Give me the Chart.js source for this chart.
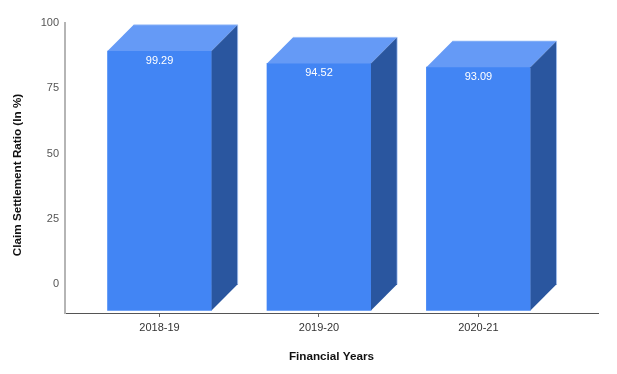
<!DOCTYPE html>
<html>
<head>
<meta charset="utf-8">
<style>
  html, body { margin: 0; padding: 0; background: #fff; }
  #wrap { width: 617px; height: 374px; }
</style>
<script src="https://cdn.jsdelivr.net/npm/chart.js@4"></script>
</head>
<body>
<div id="wrap"><canvas id="myChart" width="617" height="374"></canvas></div>
<script>
const categories = ['2018-19', '2019-20', '2020-21'];
const ratios = [99.29, 94.52, 93.09];
const yTicks = [0, 25, 50, 75, 100];

// the depth of the fake 3D box, in value units
const DEPTH = 10;

// front face of each box is the bar itself, pushed down and left by the depth
const box3d = {
    id: 'box3d',
    afterDatasetsDraw(chart) {
        const ctx = chart.ctx;
        const y = chart.scales.y;
        const d = y.getPixelForValue(0) - y.getPixelForValue(DEPTH);
        chart.getDatasetMeta(0).data.forEach((bar, i) => {
            const left = bar.x - bar.width / 2;
            const right = bar.x + bar.width / 2;

            ctx.save();
            // top
            ctx.fillStyle = '#659af6';
            ctx.beginPath();
            ctx.moveTo(left, bar.y);
            ctx.lineTo(left + d, bar.y - d);
            ctx.lineTo(right + d, bar.y - d);
            ctx.lineTo(right, bar.y);
            ctx.closePath();
            ctx.fill();

            // side
            ctx.fillStyle = '#2a569f';
            ctx.beginPath();
            ctx.moveTo(right, bar.y);
            ctx.lineTo(right + d, bar.y - d);
            ctx.lineTo(right + d, bar.base - d);
            ctx.lineTo(right, bar.base);
            ctx.closePath();
            ctx.fill();

            // thin light edge along the back
            ctx.strokeStyle = 'rgba(170, 200, 250, 0.7)';
            ctx.lineWidth = 1;
            ctx.beginPath();
            ctx.moveTo(left + d, bar.y - d);
            ctx.lineTo(right + d, bar.y - d);
            ctx.lineTo(right + d, bar.base - d);
            ctx.stroke();

            // value label
            ctx.fillStyle = '#ffffff';
            ctx.font = '11px "Liberation Sans"';
            ctx.textAlign = 'center';
            ctx.textBaseline = 'middle';
            ctx.fillText(ratios[i].toFixed(2), bar.x, bar.y + 9.5);
            ctx.restore();
        });

        // y title sits a bit under the middle of the axis, scale title can't do that
        ctx.save();
        ctx.translate(18, 175);
        ctx.rotate(-Math.PI / 2);
        ctx.fillStyle = '#111111';
        ctx.font = 'bold 11.7px "Liberation Sans"';
        ctx.textAlign = 'center';
        ctx.textBaseline = 'middle';
        ctx.fillText('Claim Settlement Ratio (In %)', 0, 0);
        ctx.restore();
    }
};

new Chart(document.getElementById('myChart'), {
    type: 'bar',
    data: {
        datasets: [{
            data: ratios.map((v, i) => ({ x: i, y: [-DEPTH, v - DEPTH] })),
            backgroundColor: '#4285f4',
            borderWidth: 0,
            barThickness: 104
        }]
    },
    plugins: [box3d],
    options: {
        responsive: false,
        animation: false,
        layout: { padding: { top: 23, right: 19 } },
        plugins: {
            legend: false,
            tooltip: { enabled: false }
        },
        scales: {
            x: {
                type: 'linear',
                offset: false,
                min: -0.593,
                max: 2.75,
                afterBuildTicks(scale) {
                    scale.ticks = categories.map((c, i) => ({ value: i }));
                },
                afterFit(scale) { scale.height = 61; },
                grid: { offset: false, drawOnChartArea: false, tickLength: 4, tickColor: '#666666' },
                border: { color: '#555555', width: 1 },
                ticks: {
                    padding: 4,
                    color: '#333333',
                    font: { family: '"Liberation Sans"', size: 11 },
                    maxRotation: 0,
                    autoSkip: false,
                    callback: (v) => categories[v]
                },
                title: {
                    display: true,
                    text: 'Financial Years',
                    color: '#111111',
                    font: { family: '"Liberation Sans"', size: 11.7, weight: 'bold' },
                    padding: { top: 0, bottom: 10 }
                }
            },
            y: {
                min: -11,
                max: 100,
                afterBuildTicks(scale) {
                    scale.ticks = yTicks.map((v) => ({ value: v }));
                },
                afterFit(scale) { scale.width = 65; },
                grid: { drawOnChartArea: false, drawTicks: false },
                border: { color: '#b5b5b5', width: 2 },
                ticks: {
                    padding: 6,
                    color: '#555555',
                    font: { family: '"Liberation Sans"', size: 11 }
                }
            }
        }
    }
});
</script>
</body>
</html>
